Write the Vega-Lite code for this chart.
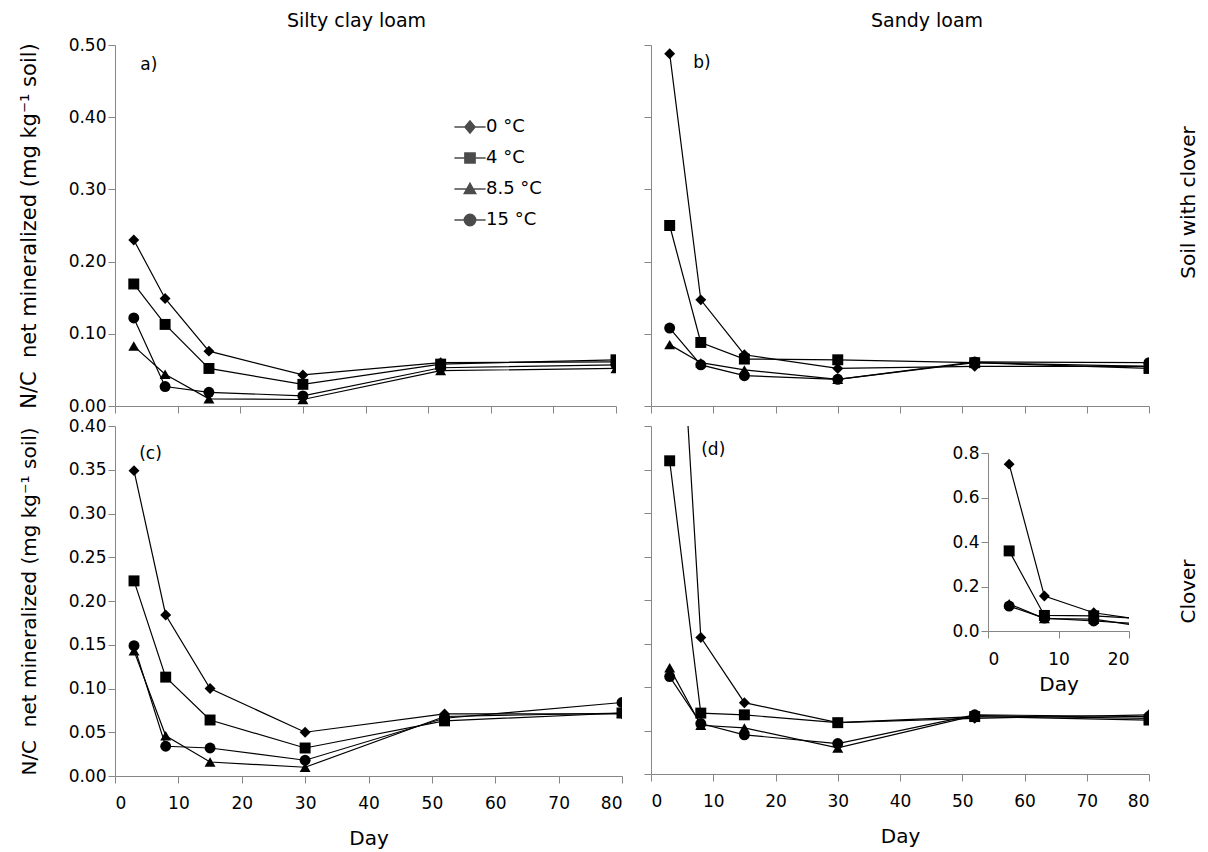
{
  "$schema": "https://vega.github.io/schema/vega-lite/v6.json",
  "padding": {"left": 18, "top": 11, "right": 5, "bottom": 5},
  "background": "white",
  "config": {
    "font": "DejaVu Sans",
    "view": {"stroke": null},
    "axis": {
      "grid": false,
      "domainColor": "#868686",
      "tickColor": "#868686",
      "domainWidth": 1,
      "tickWidth": 1,
      "tickSize": 7,
      "labelColor": "#000000",
      "labelFont": "DejaVu Sans",
      "labelFontSize": 17,
      "titleFont": "DejaVu Sans",
      "titleFontSize": 20,
      "titleFontWeight": "normal",
      "titleColor": "#000000"
    },
    "title": {"font": "DejaVu Sans", "fontSize": 19, "fontWeight": "normal", "color": "#000000", "offset": 5},
    "text": {"font": "DejaVu Sans", "fontSize": 17, "color": "#000000"}
  },
  "datasets": {
    "nc": [
      {"p": "a", "t": "0 °C", "day": 3, "v": 0.230}, {"p": "a", "t": "0 °C", "day": 8, "v": 0.149}, {"p": "a", "t": "0 °C", "day": 15, "v": 0.076}, {"p": "a", "t": "0 °C", "day": 30, "v": 0.043}, {"p": "a", "t": "0 °C", "day": 52, "v": 0.060}, {"p": "a", "t": "0 °C", "day": 80, "v": 0.061},
      {"p": "a", "t": "4 °C", "day": 3, "v": 0.169}, {"p": "a", "t": "4 °C", "day": 8, "v": 0.113}, {"p": "a", "t": "4 °C", "day": 15, "v": 0.052}, {"p": "a", "t": "4 °C", "day": 30, "v": 0.030}, {"p": "a", "t": "4 °C", "day": 52, "v": 0.058}, {"p": "a", "t": "4 °C", "day": 80, "v": 0.064},
      {"p": "a", "t": "8.5 °C", "day": 3, "v": 0.083}, {"p": "a", "t": "8.5 °C", "day": 8, "v": 0.044}, {"p": "a", "t": "8.5 °C", "day": 15, "v": 0.010}, {"p": "a", "t": "8.5 °C", "day": 30, "v": 0.009}, {"p": "a", "t": "8.5 °C", "day": 52, "v": 0.049}, {"p": "a", "t": "8.5 °C", "day": 80, "v": 0.052},
      {"p": "a", "t": "15 °C", "day": 3, "v": 0.122}, {"p": "a", "t": "15 °C", "day": 8, "v": 0.027}, {"p": "a", "t": "15 °C", "day": 15, "v": 0.019}, {"p": "a", "t": "15 °C", "day": 30, "v": 0.014}, {"p": "a", "t": "15 °C", "day": 52, "v": 0.053}, {"p": "a", "t": "15 °C", "day": 80, "v": 0.057},

      {"p": "b", "t": "0 °C", "day": 3, "v": 0.488}, {"p": "b", "t": "0 °C", "day": 8, "v": 0.147}, {"p": "b", "t": "0 °C", "day": 15, "v": 0.071}, {"p": "b", "t": "0 °C", "day": 30, "v": 0.052}, {"p": "b", "t": "0 °C", "day": 52, "v": 0.055}, {"p": "b", "t": "0 °C", "day": 80, "v": 0.055},
      {"p": "b", "t": "4 °C", "day": 3, "v": 0.250}, {"p": "b", "t": "4 °C", "day": 8, "v": 0.088}, {"p": "b", "t": "4 °C", "day": 15, "v": 0.065}, {"p": "b", "t": "4 °C", "day": 30, "v": 0.064}, {"p": "b", "t": "4 °C", "day": 52, "v": 0.060}, {"p": "b", "t": "4 °C", "day": 80, "v": 0.052},
      {"p": "b", "t": "8.5 °C", "day": 3, "v": 0.085}, {"p": "b", "t": "8.5 °C", "day": 8, "v": 0.060}, {"p": "b", "t": "8.5 °C", "day": 15, "v": 0.050}, {"p": "b", "t": "8.5 °C", "day": 30, "v": 0.037}, {"p": "b", "t": "8.5 °C", "day": 52, "v": 0.060}, {"p": "b", "t": "8.5 °C", "day": 80, "v": 0.055},
      {"p": "b", "t": "15 °C", "day": 3, "v": 0.108}, {"p": "b", "t": "15 °C", "day": 8, "v": 0.057}, {"p": "b", "t": "15 °C", "day": 15, "v": 0.042}, {"p": "b", "t": "15 °C", "day": 30, "v": 0.037}, {"p": "b", "t": "15 °C", "day": 52, "v": 0.061}, {"p": "b", "t": "15 °C", "day": 80, "v": 0.060},

      {"p": "c", "t": "0 °C", "day": 3, "v": 0.349}, {"p": "c", "t": "0 °C", "day": 8, "v": 0.184}, {"p": "c", "t": "0 °C", "day": 15, "v": 0.100}, {"p": "c", "t": "0 °C", "day": 30, "v": 0.050}, {"p": "c", "t": "0 °C", "day": 52, "v": 0.071}, {"p": "c", "t": "0 °C", "day": 80, "v": 0.071},
      {"p": "c", "t": "4 °C", "day": 3, "v": 0.223}, {"p": "c", "t": "4 °C", "day": 8, "v": 0.113}, {"p": "c", "t": "4 °C", "day": 15, "v": 0.064}, {"p": "c", "t": "4 °C", "day": 30, "v": 0.032}, {"p": "c", "t": "4 °C", "day": 52, "v": 0.063}, {"p": "c", "t": "4 °C", "day": 80, "v": 0.072},
      {"p": "c", "t": "8.5 °C", "day": 3, "v": 0.143}, {"p": "c", "t": "8.5 °C", "day": 8, "v": 0.046}, {"p": "c", "t": "8.5 °C", "day": 15, "v": 0.016}, {"p": "c", "t": "8.5 °C", "day": 30, "v": 0.010}, {"p": "c", "t": "8.5 °C", "day": 52, "v": 0.068}, {"p": "c", "t": "8.5 °C", "day": 80, "v": 0.072},
      {"p": "c", "t": "15 °C", "day": 3, "v": 0.149}, {"p": "c", "t": "15 °C", "day": 8, "v": 0.034}, {"p": "c", "t": "15 °C", "day": 15, "v": 0.032}, {"p": "c", "t": "15 °C", "day": 30, "v": 0.018}, {"p": "c", "t": "15 °C", "day": 52, "v": 0.066}, {"p": "c", "t": "15 °C", "day": 80, "v": 0.084},

      {"p": "d", "t": "0 °C", "day": 3, "v": 0.750}, {"p": "d", "t": "0 °C", "day": 8, "v": 0.157}, {"p": "d", "t": "0 °C", "day": 15, "v": 0.082}, {"p": "d", "t": "0 °C", "day": 30, "v": 0.059}, {"p": "d", "t": "0 °C", "day": 52, "v": 0.064}, {"p": "d", "t": "0 °C", "day": 80, "v": 0.068},
      {"p": "d", "t": "4 °C", "day": 3, "v": 0.360}, {"p": "d", "t": "4 °C", "day": 8, "v": 0.070}, {"p": "d", "t": "4 °C", "day": 15, "v": 0.068}, {"p": "d", "t": "4 °C", "day": 30, "v": 0.059}, {"p": "d", "t": "4 °C", "day": 52, "v": 0.066}, {"p": "d", "t": "4 °C", "day": 80, "v": 0.062},
      {"p": "d", "t": "8.5 °C", "day": 3, "v": 0.122}, {"p": "d", "t": "8.5 °C", "day": 8, "v": 0.056}, {"p": "d", "t": "8.5 °C", "day": 15, "v": 0.053}, {"p": "d", "t": "8.5 °C", "day": 30, "v": 0.030}, {"p": "d", "t": "8.5 °C", "day": 52, "v": 0.067}, {"p": "d", "t": "8.5 °C", "day": 80, "v": 0.064},
      {"p": "d", "t": "15 °C", "day": 3, "v": 0.112}, {"p": "d", "t": "15 °C", "day": 8, "v": 0.058}, {"p": "d", "t": "15 °C", "day": 15, "v": 0.045}, {"p": "d", "t": "15 °C", "day": 30, "v": 0.035}, {"p": "d", "t": "15 °C", "day": 52, "v": 0.068}, {"p": "d", "t": "15 °C", "day": 80, "v": 0.066}
    ],
    "labels": [
      {"p": "a", "day": 5.4, "v": 0.472, "s": "a)"},
      {"p": "b", "day": 8.2, "v": 0.475, "s": "b)"},
      {"p": "c", "day": 5.6, "v": 0.368, "s": "(c)"},
      {"p": "d", "day": 10.0, "v": 0.372, "s": "(d)"}
    ]
  },
  "columns": 2,
  "bounds": "flush",
  "spacing": {"row": 20, "column": 29},
  "concat": [
    {
      "width": 501,
      "height": 361,
      "title": {"text": "Silty clay loam", "dx": -9},
      "data": {"name": "nc"},
      "transform": [{"filter": "datum.p === 'a'"}],
      "layer": [
        {
          "mark": {"type": "line", "color": "black", "strokeWidth": 1.2, "clip": true},
          "encoding": {
            "x": {"field": "day", "type": "quantitative", "scale": {"domain": [0, 80]}, "axis": {"values": [0, 10, 20, 30, 40, 50, 60, 70, 80], "labels": false, "title": null}},
            "y": {"field": "v", "type": "quantitative", "scale": {"domain": [0, 0.5]}, "axis": {"values": [0, 0.05, 0.1, 0.15, 0.2, 0.25, 0.3, 0.35, 0.4, 0.45, 0.5], "format": ".2f", "labelPadding": 2, "title": "N/C\u00a0 net mineralized (mg kg⁻¹ soil)", "titleFontSize": 21, "titlePadding": 29}},
            "detail": {"field": "t"}
          }
        },
        {
          "mark": {"type": "point", "filled": true, "color": "black", "size": 120, "opacity": 1, "clip": true},
          "encoding": {
            "x": {"field": "day", "type": "quantitative"},
            "y": {"field": "v", "type": "quantitative"},
            "shape": {"field": "t", "scale": {"domain": ["0 °C", "4 °C", "8.5 °C", "15 °C"], "range": ["diamond", "square", "triangle-up", "circle"]}, "legend": null}
          }
        },
        {
          "data": {"name": "labels"},
          "transform": [{"filter": "datum.p === 'a'"}],
          "mark": {"type": "text", "align": "center", "baseline": "middle"},
          "encoding": {
            "x": {"field": "day", "type": "quantitative"},
            "y": {"field": "v", "type": "quantitative"},
            "text": {"field": "s"}
          }
        },
        {
          "transform": [{"filter": "datum.p === 'none'"}],
          "mark": {"type": "point", "filled": true, "color": "black", "stroke": "black", "strokeWidth": 1.2},
          "encoding": {
            "x": {"field": "day", "type": "quantitative"},
            "y": {"field": "v", "type": "quantitative"},
            "shape": {
              "field": "t",
              "scale": {
                "domain": ["0 °C", "4 °C", "8.5 °C", "15 °C"],
                "range": [
                  "M-2.6,0H2.6M0,-1L0.85,0L0,1L-0.85,0Z",
                  "M-2.6,0H2.6M-0.85,-0.85H0.85V0.85H-0.85Z",
                  "M-2.6,0H2.6M0,-0.95L0.95,0.75H-0.95Z",
                  "M-2.6,0H2.6M-0.95,0A0.95,0.95,0,1,0,0.95,0A0.95,0.95,0,1,0,-0.95,0Z"
                ]
              },
              "legend": {
                "orient": "none",
                "legendX": 346,
                "legendY": 73,
                "title": null,
                "symbolSize": 144,
                "labelFont": "DejaVu Sans",
                "labelFontSize": 18,
                "labelColor": "black",
                "labelOffset": 7,
                "rowPadding": 13,
                "encode": {
                  "symbols": {
                    "update": {
                      "stroke": {"value": "black"},
                      "strokeWidth": {"value": 1.2},
                      "fill": {"value": "black"},
                      "opacity": {"value": 1}
                    }
                  }
                }
              }
            }
          }
        }
      ],
      "resolve": {"scale": {"shape": "independent"}}
    },
    {
      "width": 498,
      "height": 361,
      "title": {"text": "Sandy loam", "dx": 27, "offset": 14},
      "data": {"name": "nc"},
      "transform": [{"filter": "datum.p === 'b'"}],
      "layer": [
        {
          "layer": [
            {
              "mark": {"type": "line", "color": "black", "strokeWidth": 1.2, "clip": true},
              "encoding": {
                "x": {"field": "day", "type": "quantitative", "scale": {"domain": [0, 80]}, "axis": {"values": [0, 10, 20, 30, 40, 50, 60, 70, 80], "labels": false, "title": null}},
                "y": {"field": "v", "type": "quantitative", "scale": {"domain": [0, 0.5]}, "axis": {"values": [0, 0.05, 0.1, 0.15, 0.2, 0.25, 0.3, 0.35, 0.4, 0.45, 0.5], "labels": false, "title": null}},
                "detail": {"field": "t"}
              }
            },
            {
              "mark": {"type": "point", "filled": true, "color": "black", "size": 120, "opacity": 1, "clip": true},
              "encoding": {
                "x": {"field": "day", "type": "quantitative"},
                "y": {"field": "v", "type": "quantitative"},
                "shape": {"field": "t", "scale": {"domain": ["0 °C", "4 °C", "8.5 °C", "15 °C"], "range": ["diamond", "square", "triangle-up", "circle"]}, "legend": null}
              }
            }
          ]
        },
        {
          "data": {"name": "labels"},
          "transform": [{"filter": "datum.p === 'b'"}],
          "mark": {"type": "text", "align": "center", "baseline": "middle"},
          "encoding": {
            "x": {"field": "day", "type": "quantitative"},
            "y": {"field": "v", "type": "quantitative", "scale": {"domain": [0, 0.5]}, "axis": {"orient": "right", "labels": false, "ticks": false, "domain": false, "title": "Soil with clover", "titleAngle": 270, "titlePadding": 49, "titleY": 157}},
            "text": {"field": "s"}
          }
        }
      ],
      "resolve": {"scale": {"y": "independent"}, "axis": {"y": "independent"}}
    },
    {
      "width": 507,
      "height": 350,
      "data": {"name": "nc"},
      "transform": [{"filter": "datum.p === 'c'"}],
      "layer": [
        {
          "mark": {"type": "line", "color": "black", "strokeWidth": 1.2, "clip": true},
          "encoding": {
            "x": {"field": "day", "type": "quantitative", "scale": {"domain": [0, 80]}, "axis": {"values": [0, 10, 20, 30, 40, 50, 60, 70, 80], "labelPadding": 12, "title": "Day", "titlePadding": 17}},
            "y": {"field": "v", "type": "quantitative", "scale": {"domain": [0, 0.4]}, "axis": {"values": [0, 0.05, 0.1, 0.15, 0.2, 0.25, 0.3, 0.35, 0.4], "format": ".2f", "labelPadding": 2, "title": "N/C\u00a0 net mineralized (mg kg⁻¹ soil)", "titlePadding": 29}},
            "detail": {"field": "t"}
          }
        },
        {
          "mark": {"type": "point", "filled": true, "color": "black", "size": 120, "opacity": 1, "clip": true},
          "encoding": {
            "x": {"field": "day", "type": "quantitative"},
            "y": {"field": "v", "type": "quantitative"},
            "shape": {"field": "t", "scale": {"domain": ["0 °C", "4 °C", "8.5 °C", "15 °C"], "range": ["diamond", "square", "triangle-up", "circle"]}, "legend": null}
          }
        },
        {
          "data": {"name": "labels"},
          "transform": [{"filter": "datum.p === 'c'"}],
          "mark": {"type": "text", "align": "center", "baseline": "middle"},
          "encoding": {
            "x": {"field": "day", "type": "quantitative"},
            "y": {"field": "v", "type": "quantitative"},
            "text": {"field": "s"}
          }
        }
      ]
    },
    {
      "width": 498,
      "height": 348,
      "data": {"name": "nc"},
      "transform": [{"filter": "datum.p === 'd'"}],
      "layer": [
        {
          "layer": [
            {
              "mark": {"type": "line", "color": "black", "strokeWidth": 1.2, "clip": true},
              "encoding": {
                "x": {"field": "day", "type": "quantitative", "scale": {"domain": [0, 80]}, "axis": {"orient": "bottom", "values": [0, 10, 20, 30, 40, 50, 60, 70, 80], "labelPadding": 12, "title": "Day", "titlePadding": 17}},
                "y": {"field": "v", "type": "quantitative", "scale": {"domain": [0, 0.4]}, "axis": {"orient": "left", "values": [0, 0.05, 0.1, 0.15, 0.2, 0.25, 0.3, 0.35, 0.4], "labels": false, "title": null}},
                "detail": {"field": "t"}
              }
            },
            {
              "mark": {"type": "point", "filled": true, "color": "black", "size": 120, "opacity": 1, "clip": true},
              "encoding": {
                "x": {"field": "day", "type": "quantitative"},
                "y": {"field": "v", "type": "quantitative"},
                "shape": {"field": "t", "scale": {"domain": ["0 °C", "4 °C", "8.5 °C", "15 °C"], "range": ["diamond", "square", "triangle-up", "circle"]}, "legend": null}
              }
            }
          ]
        },
        {
          "data": {"name": "labels"},
          "transform": [{"filter": "datum.p === 'd'"}],
          "mark": {"type": "text", "align": "center", "baseline": "middle"},
          "encoding": {
            "x": {"field": "day", "type": "quantitative", "scale": {"domain": [0, 80]}, "axis": null},
            "y": {"field": "v", "type": "quantitative", "scale": {"domain": [0, 0.4]}, "axis": {"orient": "right", "labels": false, "ticks": false, "domain": false, "title": "Clover", "titleAngle": 270, "titlePadding": 49, "titleY": 165}},
            "text": {"field": "s"}
          }
        },
        {
          "layer": [
            {
              "transform": [{"filter": "datum.day <= 30"}],
              "mark": {"type": "line", "color": "black", "strokeWidth": 1.2},
              "encoding": {
                "x": {"field": "day", "type": "quantitative", "scale": {"domain": [0, 20], "range": [337, 478], "clamp": true, "nice": false}, "axis": {"orient": "bottom", "offset": -143, "values": [0, 10, 20], "labelPadding": 13, "title": "Day", "titlePadding": 7}},
                "y": {"field": "v", "type": "quantitative", "scale": {"domain": [0, 0.8], "range": [205, 27], "nice": false}, "axis": {"orient": "left", "offset": -337, "values": [0, 0.2, 0.4, 0.6, 0.8], "format": ".1f", "labelPadding": 2, "title": null}},
                "detail": {"field": "t"}
              }
            },
            {
              "transform": [{"filter": "datum.day <= 15"}],
              "mark": {"type": "point", "filled": true, "color": "black", "size": 120, "opacity": 1},
              "encoding": {
                "x": {"field": "day", "type": "quantitative"},
                "y": {"field": "v", "type": "quantitative"},
                "shape": {"field": "t", "scale": {"domain": ["0 °C", "4 °C", "8.5 °C", "15 °C"], "range": ["diamond", "square", "triangle-up", "circle"]}, "legend": null}
              }
            }
          ]
        }
      ],
      "resolve": {"scale": {"x": "independent", "y": "independent"}, "axis": {"x": "independent", "y": "independent"}}
    }
  ]
}
